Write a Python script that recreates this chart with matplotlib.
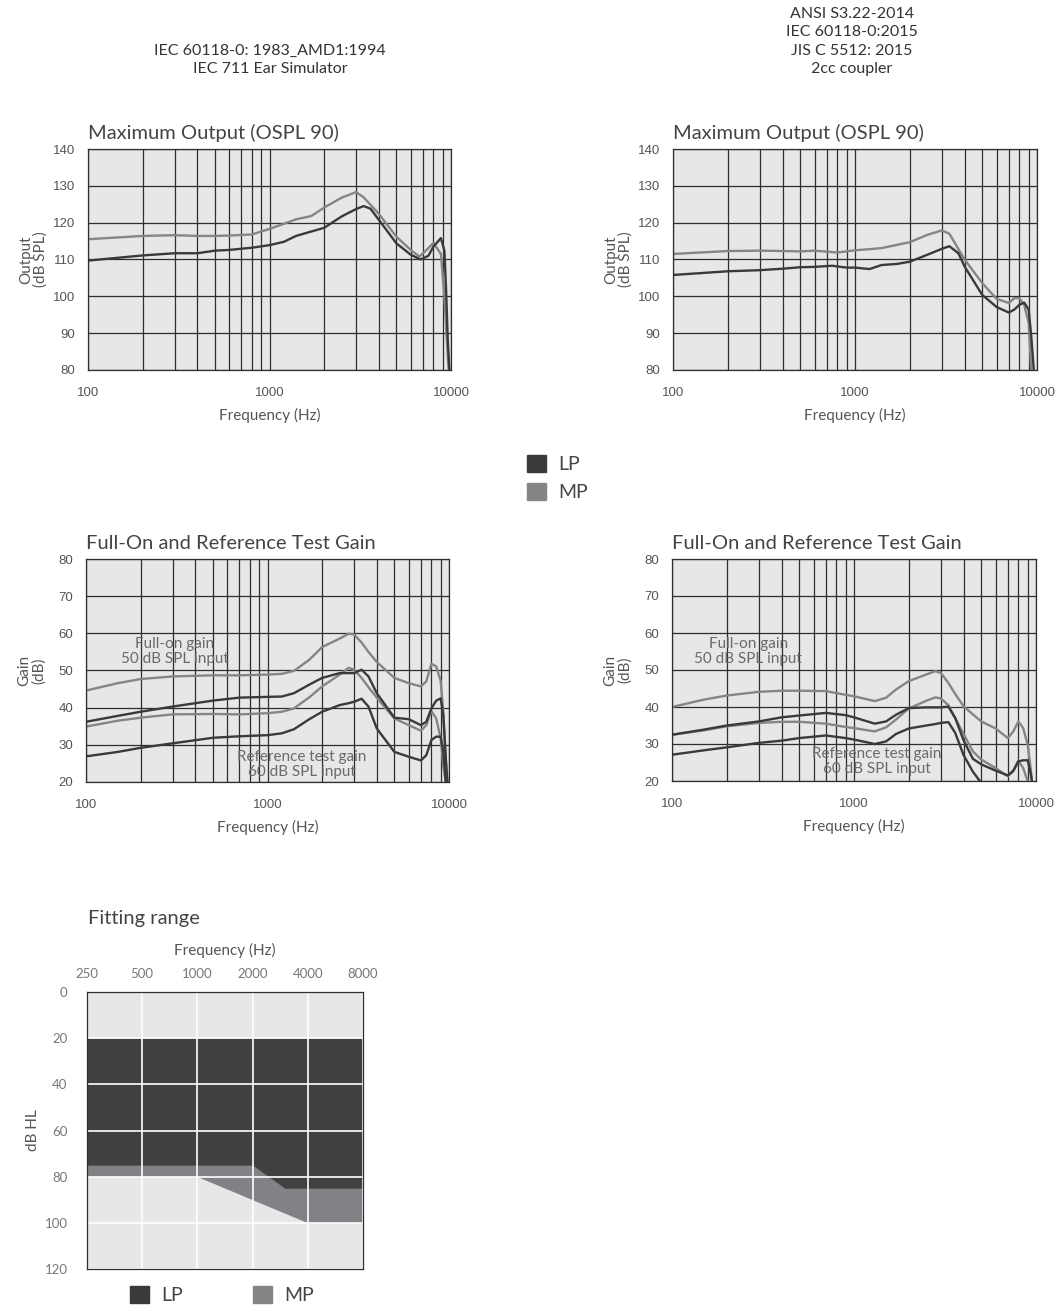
import matplotlib
matplotlib.use("Agg")
import matplotlib.pyplot as plt
from matplotlib.patches import Patch
from matplotlib.ticker import LogLocator, NullFormatter, FixedLocator, FixedFormatter

LP_COLOR = "#3a3a3a"
MP_COLOR = "#858585"
PANEL_BG = "#e6e7e8"
GRID_DARK = "#2e2e2e"
TEXT_GRAY = "#555555"
NOTE_GRAY = "#6a6a6a"

plt.rcParams["font.family"] = ["Lato", "DejaVu Sans"]

# --- Maximum output, IEC 711 ear simulator ---
ospl_iec_lp_f = [100, 200, 300, 400, 500, 600, 800, 1000, 1200, 1400, 1700, 2000, 2500,
                 3000, 3300, 3600, 4000, 5000, 6000, 6800, 7500, 8000, 8800, 9200, 9400, 9600, 9800]
ospl_iec_lp = [109.7, 111.1, 111.7, 111.7, 112.4, 112.6, 113.2, 113.9, 114.8, 116.4, 117.6, 118.6, 121.7,
               123.7, 124.5, 123.8, 120.8, 114.4, 111.3, 110.0, 111.0, 113.5, 115.8, 112.4, 101.6, 88.0, 80.0]
ospl_iec_mp_f = [100, 200, 300, 400, 500, 600, 800, 1000, 1200, 1400, 1700, 2000, 2500,
                 3000, 3300, 4000, 5000, 6000, 6700, 7300, 8000, 8800, 9200, 9700]
ospl_iec_mp = [115.5, 116.4, 116.6, 116.4, 116.4, 116.5, 116.8, 118.3, 119.7, 120.9, 121.8, 124.1, 126.8,
               128.3, 126.9, 122.4, 116.2, 112.6, 110.8, 112.5, 114.5, 111.5, 99.8, 80.0]

# --- Maximum output, 2cc coupler ---
ospl_2cc_lp_f = [100, 200, 300, 400, 500, 600, 750, 900, 1000, 1200, 1400, 1700, 2000, 2500,
                 3000, 3300, 3700, 4000, 5000, 6000, 7000, 7500, 8000, 8500, 9000, 9300, 9600]
ospl_2cc_lp = [105.8, 106.8, 107.1, 107.5, 107.9, 108.0, 108.3, 107.8, 107.8, 107.4, 108.5, 108.8, 109.4, 111.3,
               112.9, 113.6, 111.7, 108.1, 100.4, 97.1, 95.6, 96.4, 97.7, 98.3, 96.4, 89.1, 80.0]
ospl_2cc_mp_f = [100, 200, 300, 400, 500, 600, 800, 1000, 1200, 1400, 2000, 2500,
                 3000, 3300, 4000, 5000, 6000, 7000, 7500, 8000, 8500, 9000, 9300]
ospl_2cc_mp = [111.5, 112.3, 112.4, 112.3, 112.2, 112.4, 111.9, 112.5, 112.8, 113.1, 114.7, 116.7,
               117.9, 117.0, 110.0, 103.6, 99.3, 98.2, 99.5, 99.5, 97.7, 92.8, 80.0]

# --- Full-on and reference test gain, IEC 711 ---
gain_iec_f = [100, 150, 200, 300, 500, 700, 1000, 1200, 1400, 1700, 2000, 2500, 2800, 3000,
              3300, 3600, 4000, 5000, 6000, 7000, 7500, 8000, 8500, 9000, 9300, 9600, 9800]
gain_iec_full_mp = [44.6, 46.6, 47.7, 48.4, 48.7, 48.7, 48.9, 49.1, 49.9, 52.9, 56.3, 58.6, 59.9, 59.7,
                    57.5, 55.0, 52.3, 48.0, 46.6, 45.7, 47.1, 51.8, 51.1, 47.1, 38.9, 26.3, 20.0]
gain_iec_full_lp = [36.2, 37.8, 38.9, 40.3, 41.9, 42.7, 42.9, 43.0, 43.9, 46.2, 48.0, 49.3, 49.3, 49.3,
                    50.2, 48.4, 43.9, 37.3, 36.9, 35.3, 36.2, 39.8, 41.9, 42.5, 38.0, 26.3, 20.0]
gain_iec_ref_mp = [34.9, 36.5, 37.3, 38.2, 38.3, 38.2, 38.5, 38.9, 39.8, 42.8, 45.7, 48.9, 50.7, 50.2,
                   48.0, 45.5, 42.7, 37.1, 35.3, 33.8, 35.3, 39.1, 37.1, 31.7, 24.5, 20.0, 19.0]
gain_iec_ref_lp = [26.9, 28.1, 29.2, 30.4, 31.9, 32.3, 32.6, 33.1, 34.2, 36.9, 38.9, 40.7, 41.2, 41.6,
                   42.4, 40.3, 34.4, 28.1, 26.8, 25.8, 27.2, 31.3, 32.2, 32.2, 28.1, 20.0, 19.0]

# --- Full-on and reference test gain, 2cc coupler ---
gain_2cc_f = [100, 150, 200, 300, 400, 500, 700, 900, 1000, 1300, 1500, 1700, 2000, 2500, 2800,
              3000, 3300, 3600, 4000, 4500, 5000, 6000, 7000, 7500, 8000, 8500, 9000, 9300, 9500]
gain_2cc_full_mp = [40.0, 42.0, 43.1, 44.1, 44.4, 44.4, 44.3, 43.3, 42.9, 41.6, 42.5, 44.7, 47.0, 48.8, 49.7,
                    49.2, 46.5, 43.5, 40.2, 38.0, 36.1, 34.2, 31.6, 33.4, 36.1, 34.3, 29.8, 24.4, 20.0]
gain_2cc_full_lp = [32.5, 33.9, 35.0, 36.1, 37.2, 37.7, 38.4, 37.8, 37.2, 35.5, 36.1, 37.9, 39.7, 39.9, 39.9,
                    39.9, 40.1, 37.0, 31.0, 26.0, 24.5, 22.8, 21.5, 22.8, 25.3, 25.6, 25.6, 22.6, 20.0]
gain_2cc_ref_mp = [32.5, 33.7, 34.8, 35.7, 36.0, 36.0, 35.5, 34.6, 34.3, 33.4, 34.5, 36.6, 39.6, 41.7, 42.6,
                   42.3, 40.5, 37.0, 32.7, 28.0, 25.8, 23.5, 21.3, 22.6, 25.5, 23.5, 20.0, 19.0, 19.0]
gain_2cc_ref_lp = [27.1, 28.3, 29.1, 30.3, 30.9, 31.6, 32.3, 31.6, 31.2, 30.0, 30.7, 32.7, 34.2, 35.0, 35.4,
                   35.7, 35.9, 33.0, 27.0, 22.5, 19.5, 19.0, 19.0, 19.0, 19.0, 19.0, 19.0, 19.0, 19.0]

# --- Fitting range (dB HL) ---
fit_lp_f = [250, 2000, 3000, 8000]
fit_lp_top = [20, 20, 20, 20]
fit_lp_bottom = [75, 75, 85, 85]
fit_mp_f = [250, 1000, 4000, 8000]
fit_mp_top = [20, 20, 20, 20]
fit_mp_bottom = [80, 80, 100, 100]
fit_ticks = [250, 500, 1000, 2000, 4000, 8000]

W, H = 1056, 1305


def px_axes(left, top, right, bottom):
    return fig.add_axes([left / W, 1 - bottom / H, (right - left) / W, (bottom - top) / H])


def style_response(ax, title, ylabel, ylim, yticks):
    ax.set_facecolor(PANEL_BG)
    ax.set_xscale("log")
    ax.set_xlim(100, 10000)
    ax.set_ylim(*ylim)
    ax.set_yticks(yticks)
    ax.xaxis.set_major_locator(FixedLocator([100, 1000, 10000]))
    ax.xaxis.set_major_formatter(FixedFormatter(["100", "1000", "10000"]))
    ax.xaxis.set_minor_locator(LogLocator(base=10, subs=range(2, 10)))
    ax.xaxis.set_minor_formatter(NullFormatter())
    ax.grid(which="both", axis="x", color=GRID_DARK, linewidth=0.9)
    ax.grid(which="major", axis="y", color=GRID_DARK, linewidth=0.9)
    ax.tick_params(which="both", length=0, labelsize=9.5, labelcolor=TEXT_GRAY)
    ax.tick_params(axis="x", pad=12)
    ax.tick_params(axis="y", pad=9)
    for lab in ax.get_xticklabels() + ax.get_yticklabels():
        lab.set_family("Liberation Sans")
    for sp in ax.spines.values():
        sp.set_color(GRID_DARK)
        sp.set_linewidth(0.9)
        sp.set_zorder(3)
    ax.set_xlabel("Frequency (Hz)", fontsize=11, color=TEXT_GRAY)
    ax.xaxis.set_label_coords(0.5, -0.17)
    ax.set_ylabel(ylabel, fontsize=11, color=TEXT_GRAY, linespacing=1.0)
    ax.yaxis.set_label_coords(-0.11, 0.5)
    ax.text(0, 1.03, title, transform=ax.transAxes, fontsize=14.5, color="#444444",
            ha="left", va="bottom")


fig = plt.figure(figsize=(W / 100, H / 100), dpi=100)

fig.text(270 / W, 1 - 60 / H, "IEC 60118-0: 1983_AMD1:1994\nIEC 711 Ear Simulator",
         ha="center", va="center", fontsize=11.5, color="#333333", linespacing=1.39)
fig.text(852 / W, 1 - 41.5 / H, "ANSI S3.22-2014\nIEC 60118-0:2015\nJIS C 5512: 2015\n2cc coupler",
         ha="center", va="center", fontsize=11.5, color="#333333", linespacing=1.39)

ax1 = px_axes(88, 149, 451, 370)
ax2 = px_axes(673, 149, 1037, 370)
ax3 = px_axes(86, 559, 449, 782)
ax4 = px_axes(672, 559, 1036, 781)
ax5 = px_axes(87, 992, 363, 1269)

lw = 1.7

style_response(ax1, "Maximum Output (OSPL 90)", "Output\n(dB SPL)", (80, 140), range(80, 141, 10))
ax1.plot(ospl_iec_mp_f, ospl_iec_mp, color=MP_COLOR, lw=lw)
ax1.plot(ospl_iec_lp_f, ospl_iec_lp, color=LP_COLOR, lw=lw)

style_response(ax2, "Maximum Output (OSPL 90)", "Output\n(dB SPL)", (80, 140), range(80, 141, 10))
ax2.plot(ospl_2cc_mp_f, ospl_2cc_mp, color=MP_COLOR, lw=lw)
ax2.plot(ospl_2cc_lp_f, ospl_2cc_lp, color=LP_COLOR, lw=lw)

style_response(ax3, "Full-On and Reference Test Gain", "Gain\n(dB)", (20, 80), range(20, 81, 10))
ax3.plot(gain_iec_f, gain_iec_full_mp, color=MP_COLOR, lw=lw)
ax3.plot(gain_iec_f, gain_iec_ref_mp, color=MP_COLOR, lw=lw)
ax3.plot(gain_iec_f, gain_iec_full_lp, color=LP_COLOR, lw=lw)
ax3.plot(gain_iec_f, gain_iec_ref_lp, color=LP_COLOR, lw=lw)
ax3.text(308, 55, "Full-on gain\n50 dB SPL input", ha="center", va="center",
         fontsize=11, color=NOTE_GRAY, linespacing=1.1)
ax3.text(1540, 24.7, "Reference test gain\n60 dB SPL input", ha="center", va="center",
         fontsize=11, color=NOTE_GRAY, linespacing=1.1)

style_response(ax4, "Full-On and Reference Test Gain", "Gain\n(dB)", (20, 80), range(20, 81, 10))
ax4.plot(gain_2cc_f, gain_2cc_full_mp, color=MP_COLOR, lw=lw)
ax4.plot(gain_2cc_f, gain_2cc_ref_mp, color=MP_COLOR, lw=lw)
ax4.plot(gain_2cc_f, gain_2cc_full_lp, color=LP_COLOR, lw=lw)
ax4.plot(gain_2cc_f, gain_2cc_ref_lp, color=LP_COLOR, lw=lw)
ax4.text(262, 55, "Full-on gain\n50 dB SPL input", ha="center", va="center",
         fontsize=11, color=NOTE_GRAY, linespacing=1.1)
ax4.text(1330, 25.3, "Reference test gain\n60 dB SPL input", ha="center", va="center",
         fontsize=11, color=NOTE_GRAY, linespacing=1.1)

# middle legend
fig.legend(handles=[Patch(color=LP_COLOR, label="LP"), Patch(color=MP_COLOR, label="MP")],
           loc="upper left", bbox_to_anchor=(527 / W, 1 - 455 / H), frameon=False,
           fontsize=14, handlelength=1.0, handleheight=1.0, handletextpad=0.6,
           labelspacing=0.5, borderpad=0, borderaxespad=0, labelcolor="#444444")

# fitting range
ax5.set_facecolor(PANEL_BG)
ax5.set_xscale("log", base=2)
ax5.set_xlim(250, 8000)
ax5.set_ylim(120, 0)
ax5.fill_between(fit_mp_f, fit_mp_top, fit_mp_bottom, color="#818285", lw=0)
ax5.fill_between(fit_lp_f, fit_lp_top, fit_lp_bottom, color="#404040", lw=0)
ax5.set_axisbelow(False)
ax5.xaxis.set_major_locator(FixedLocator(fit_ticks))
ax5.xaxis.set_major_formatter(FixedFormatter([str(t) for t in fit_ticks]))
ax5.xaxis.set_minor_locator(FixedLocator([]))
ax5.set_yticks(range(0, 121, 20))
ax5.grid(color="white", linewidth=1.2)
ax5.xaxis.tick_top()
ax5.xaxis.set_label_position("top")
ax5.tick_params(length=0, labelsize=9.5, labelcolor="#777777")
ax5.tick_params(axis="x", pad=9)
ax5.tick_params(axis="y", pad=14)
for sp in ax5.spines.values():
    sp.set_color(GRID_DARK)
    sp.set_linewidth(0.9)
    sp.set_zorder(3)
ax5.set_xlabel("Frequency (Hz)", fontsize=11, color=TEXT_GRAY, labelpad=9)
ax5.set_ylabel("dB HL", fontsize=11, color=TEXT_GRAY)
ax5.yaxis.set_label_coords(-0.17, 0.5)
fig.text(88 / W, 1 - 924 / H, "Fitting range", fontsize=14.5, color="#444444", ha="left", va="baseline")

fig.legend(handles=[Patch(color=LP_COLOR, label="LP"), Patch(color=MP_COLOR, label="MP")],
           loc="upper left", bbox_to_anchor=(130 / W, 1 - 1286 / H), frameon=False, ncol=2,
           fontsize=14, handlelength=1.0, handleheight=1.0, handletextpad=0.6,
           columnspacing=3.6, borderpad=0, borderaxespad=0, labelcolor="#444444")

fig.savefig("out.png", dpi=100)
